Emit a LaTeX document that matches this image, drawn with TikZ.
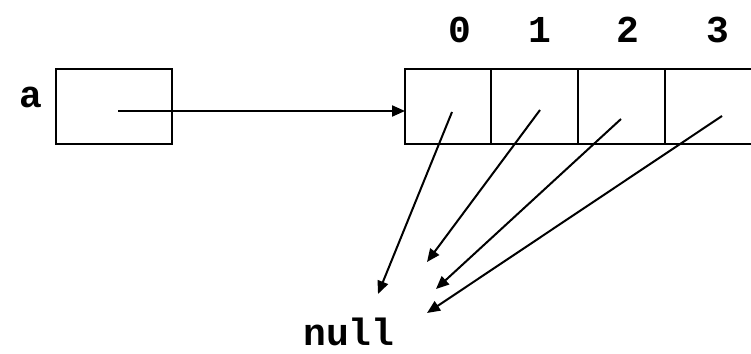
\documentclass[tikz,border=0pt]{standalone}
\usepackage{fontspec}
\setmainfont{Liberation Mono}
\usetikzlibrary{arrows.meta}
\begin{document}
\begin{tikzpicture}[x=1pt,y=-1pt,
  box/.style={draw=black,line width=2.2pt,rectangle,inner sep=0pt,minimum height=75pt},
  lbl/.style={font=\fontsize{38}{38}\selectfont\bfseries,anchor=base,inner sep=0pt},
  ptr/.style={line width=2pt,-{Triangle[length=13pt,width=11pt]}}]
\useasboundingbox (0,0) rectangle (751,353);
\clip (0,0) rectangle (751,353);
\node[box,minimum width=116pt] (boxa) at (114,106.5) {};
\node[box,minimum width=86pt] (c0) at (448,106.5) {};
\node[box,minimum width=87pt] (c1) at (534.5,106.5) {};
\node[box,minimum width=87pt] (c2) at (621.5,106.5) {};
\node[box,minimum width=90pt] (c3) at (710,106.5) {};
\node[lbl] (la) at (31,107) {a};
\node[lbl] (l0) at (460,42) {0};
\node[lbl] (l1) at (540,42) {1};
\node[lbl] (l2) at (628,42) {2};
\node[lbl] (l3) at (718,42) {3};
\node[lbl] (null) at (349,345) {null};
\coordinate (sa) at (118,111);
\coordinate (ea) at (405,111);
\coordinate (s0) at (452,112);
\coordinate (s1) at (540,110);
\coordinate (s2) at (621,119);
\coordinate (s3) at (722,116);
\coordinate (e0) at (378,294);
\coordinate (e1) at (427,262);
\coordinate (e2) at (436,289);
\coordinate (e3) at (427,313);
\draw[ptr] (sa) -- (ea);
\draw[ptr] (s0) -- (e0);
\draw[ptr] (s1) -- (e1);
\draw[ptr] (s2) -- (e2);
\draw[ptr] (s3) -- (e3);
\end{tikzpicture}
\end{document}
